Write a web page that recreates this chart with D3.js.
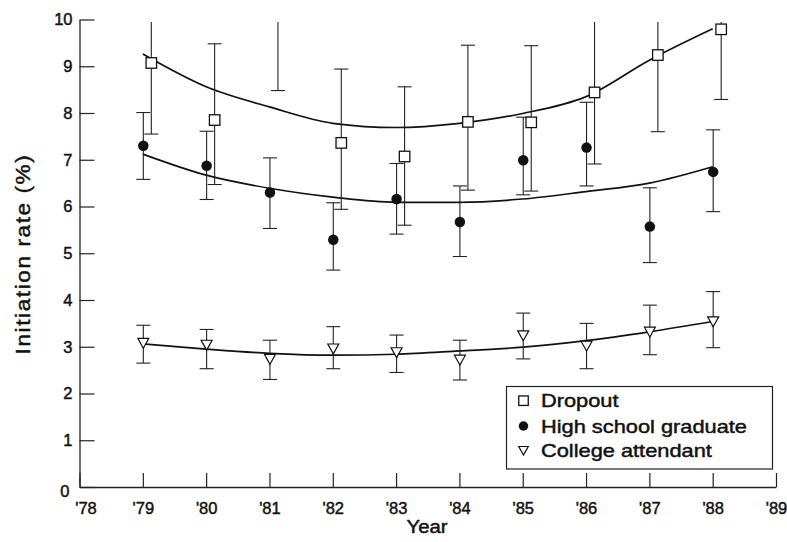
<!DOCTYPE html>
<html>
<meta charset="utf-8">
<head>
    <script src="https://d3js.org/d3.v7.min.js"></script>
    <style>
        body { margin: 0; background: #fff; }
        text { font-family: "Liberation Sans", Arial, Helvetica, sans-serif; fill: #111; stroke: #111; stroke-width: 0.45px; }
    </style>
</head>
<body>
    <script>

        // data
        var years = [1979, 1980, 1981, 1982, 1983, 1984, 1985, 1986, 1987, 1988];
        var tickYears = [1978, 1979, 1980, 1981, 1982, 1983, 1984, 1985, 1986, 1987, 1988, 1989];
        var yTicks = [0, 1, 2, 3, 4, 5, 6, 7, 8, 9, 10];

        var dropout    = [9.07, 7.85, 10.4, 7.36, 7.07, 7.81, 7.80, 8.44, 9.24, 9.79];
        var dropoutLo  = [7.55, 6.47, 8.48, 5.94, 5.60, 6.35, 6.33, 6.91, 7.60, 8.29];
        var dropoutHi  = [10.6, 9.48, 12.3, 8.94, 8.56, 9.45, 9.44, 10.0, 10.9, 11.3];
        var dropoutFit = [9.26, 8.56, 8.13, 7.78, 7.69, 7.78, 7.99, 8.35, 9.13, 9.80];

        var highSchool    = [7.30, 6.87, 6.30, 5.29, 6.16, 5.67, 6.99, 7.26, 5.57, 6.74];
        var highSchoolLo  = [6.58, 6.15, 5.53, 4.64, 5.41, 4.93, 6.25, 6.44, 4.80, 5.89];
        var highSchoolHi  = [8.01, 7.61, 7.04, 6.08, 6.92, 6.44, 7.91, 8.23, 6.40, 7.64];
        var highSchoolFit = [7.12, 6.67, 6.39, 6.20, 6.09, 6.09, 6.16, 6.32, 6.50, 6.85];

        var college    = [3.08, 3.04, 2.74, 2.96, 2.88, 2.72, 3.24, 3.02, 3.32, 3.54];
        var collegeLo  = [2.65, 2.53, 2.30, 2.53, 2.45, 2.29, 2.74, 2.53, 2.83, 2.98];
        var collegeHi  = [3.46, 3.37, 3.14, 3.43, 3.25, 3.14, 3.72, 3.50, 3.89, 4.18];
        var collegeFit = [3.06, 2.95, 2.86, 2.82, 2.84, 2.91, 2.99, 3.13, 3.32, 3.54];

        var legendLabels = ["Dropout", "High school graduate", "College attendant"];

        var width = 787,
            height = 542;

        var svg = d3.select("body").append("svg")
            .attr("width", width)
            .attr("height", height);

        var x = d3.scaleLinear().domain([1978, 1989]).range([79.5, 776]);
        var y = d3.scaleLinear().domain([0, 10]).range([487, 19.5]);

        // clip so whiskers/points above 10 are cut off at the top
        svg.append("clipPath").attr("id", "plotclip")
            .append("rect")
            .attr("x", 60).attr("y", 22)
            .attr("width", 740).attr("height", 480);

        var series = [
            { name: "dropout", vals: dropout, lo: dropoutLo, hi: dropoutHi, fit: dropoutFit, dx: 8.5, sym: "square" },
            { name: "hs", vals: highSchool, lo: highSchoolLo, hi: highSchoolHi, fit: highSchoolFit, dx: 0.5, sym: "circle" },
            { name: "college", vals: college, lo: collegeLo, hi: collegeHi, fit: collegeFit, dx: 0.5, sym: "triangle" }
        ];

        // axes
        var yAxis = d3.axisLeft(y)
            .tickValues(yTicks)
            .tickSizeInner(-15)
            .tickSizeOuter(0)
            .tickPadding(7);

        var xAxis = d3.axisBottom(x)
            .tickValues(tickYears)
            .tickFormat(function(d) { return "'" + String(d).slice(2); })
            .tickSizeInner(-14)
            .tickSizeOuter(0)
            .tickPadding(15);

        var gy = svg.append("g")
            .attr("transform", "translate(" + x(1978) + ",0)")
            .call(yAxis);

        var gx = svg.append("g")
            .attr("transform", "translate(0," + y(0) + ")")
            .call(xAxis);

        [gx, gy].forEach(function(g) {
            g.select(".domain").attr("stroke", "#222").attr("stroke-width", 1.3);
            g.selectAll(".tick line").attr("stroke", "#222").attr("stroke-width", 1.2);
            g.selectAll(".tick text")
                .attr("fill", "#111")
                .style("font-family", "'Liberation Sans', Arial, sans-serif")
                .style("font-size", "16.5px");
        });

        gx.selectAll(".tick text").filter(function(d) { return d === 1978; }).attr("x", 6);
        gy.selectAll(".tick text").filter(function(d) { return d === 0; }).attr("dy", "0.55em").attr("x", -10);

        // axis titles (the scanned type is set wide, so stretch it a bit)
        svg.append("text")
            .attr("transform", "translate(29.5,254) rotate(-90) scale(1.13,1)")
            .attr("text-anchor", "middle")
            .style("font-size", "20px")
            .style("letter-spacing", "1.4px")
            .text("Initiation rate (%)");

        svg.append("text")
            .attr("transform", "translate(427,532.5) scale(1.13,1)")
            .attr("text-anchor", "middle")
            .style("font-size", "18px")
            .text("Year");

        var plot = svg.append("g").attr("clip-path", "url(#plotclip)");

        // fitted curves
        var line = d3.line()
            .x(function(d, i) { return x(years[i]); })
            .y(function(d) { return y(d); })
            .curve(d3.curveMonotoneX);

        series.forEach(function(s) {
            plot.append("path")
                .datum(s.fit)
                .attr("d", line)
                .attr("fill", "none")
                .attr("stroke", "#111")
                .attr("stroke-width", 1.7);
        });

        // error bars
        var capW = 7;
        series.forEach(function(s) {
            var g = plot.append("g").attr("stroke", "#222").attr("stroke-width", 1.1);
            years.forEach(function(yr, i) {
                var cx = x(yr) + s.dx;
                g.append("line")
                    .attr("x1", cx).attr("x2", cx)
                    .attr("y1", y(s.lo[i])).attr("y2", y(s.hi[i]));
                g.append("line")
                    .attr("x1", cx - capW).attr("x2", cx + capW)
                    .attr("y1", y(s.lo[i])).attr("y2", y(s.lo[i]));
                g.append("line")
                    .attr("x1", cx - capW).attr("x2", cx + capW)
                    .attr("y1", y(s.hi[i])).attr("y2", y(s.hi[i]));
            });
        });

        // markers
        function drawSymbol(g, sym, cx, cy, size) {
            if (sym === "square") {
                g.append("rect")
                    .attr("x", cx - size / 2).attr("y", cy - size / 2)
                    .attr("width", size).attr("height", size)
                    .attr("fill", "#fff").attr("stroke", "#111").attr("stroke-width", 1.3);
            } else if (sym === "circle") {
                g.append("circle")
                    .attr("cx", cx).attr("cy", cy).attr("r", size / 2)
                    .attr("fill", "#111");
            } else {
                var w = size / 2;
                g.append("path")
                    .attr("d", "M" + (cx - w) + "," + (cy - size * 0.42) +
                               "L" + (cx + w) + "," + (cy - size * 0.42) +
                               "L" + cx + "," + (cy + size * 0.48) + "Z")
                    .attr("fill", "#fff").attr("stroke", "#111").attr("stroke-width", 1.2);
            }
        }

        series.forEach(function(s) {
            var g = plot.append("g");
            var size = s.sym === "triangle" ? 11 : 10.5;
            s.vals.forEach(function(v, i) {
                drawSymbol(g, s.sym, x(years[i]) + s.dx, y(v), size);
            });
        });

        // legend
        var legend = svg.append("g");
        legend.append("rect")
            .attr("x", 506.5).attr("y", 386.5)
            .attr("width", 266).attr("height", 82.5)
            .attr("fill", "#fff")
            .attr("stroke", "#222").attr("stroke-width", 1.2);

        var rowY = [400.7, 426, 450.5];
        series.forEach(function(s, i) {
            drawSymbol(legend, s.sym, 523.5, rowY[i], s.sym === "circle" ? 9.5 : 9.5);
            legend.append("text")
                .attr("transform", "translate(541," + rowY[i] + ") scale(1.16,1)")
                .attr("dy", "0.35em")
                .style("font-size", "18.8px")
                .text(legendLabels[i]);
        });

    </script>
</body>
</html>
